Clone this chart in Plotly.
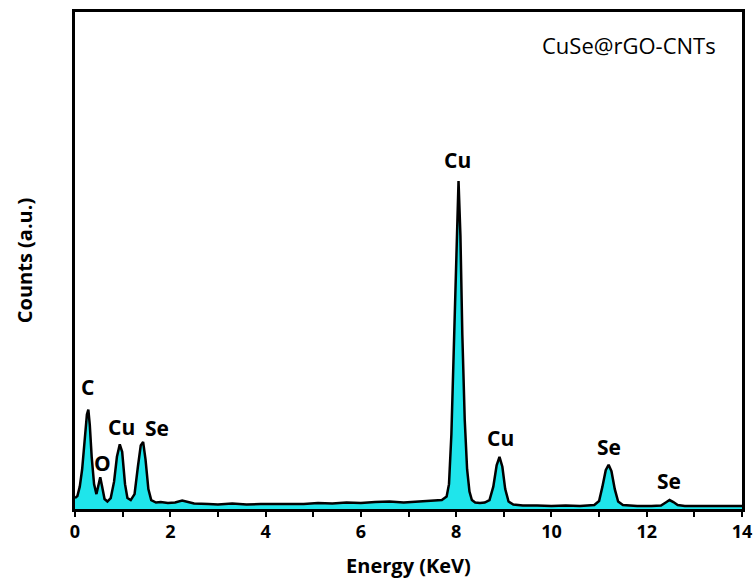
import plotly.graph_objects as go

energy = [0.00, 0.05, 0.10, 0.15, 0.20, 0.25, 0.28, 0.31, 0.35, 0.40, 0.45, 0.49, 0.53, 0.57,
          0.62, 0.68, 0.75, 0.82, 0.88, 0.94, 0.99, 1.05, 1.10, 1.17, 1.25, 1.32, 1.38, 1.43,
          1.48, 1.54, 1.60, 1.70, 1.80, 1.95, 2.10, 2.25, 2.35, 2.50, 2.80, 3.00, 3.30, 3.60,
          3.90, 4.20, 4.50, 4.80, 5.10, 5.40, 5.70, 6.00, 6.30, 6.60, 6.90, 7.20, 7.50, 7.70,
          7.80, 7.85, 7.90, 7.95, 8.00, 8.05, 8.09, 8.13, 8.18, 8.23, 8.28, 8.33, 8.40, 8.50,
          8.60, 8.70, 8.78, 8.85, 8.91, 8.97, 9.03, 9.10, 9.20, 9.40, 9.70, 10.00, 10.30, 10.60,
          10.90, 11.00, 11.07, 11.14, 11.20, 11.26, 11.33, 11.40, 11.50, 11.80, 12.10, 12.30,
          12.40, 12.48, 12.56, 12.65, 12.80, 13.20, 13.60, 14.00]
counts = [2.2, 2.6, 4.5, 8.0, 13.5, 19.0, 20.0, 17.0, 10.5, 5.0, 3.0, 4.5, 6.4, 4.5,
          2.0, 1.5, 2.2, 5.5, 10.5, 13.0, 11.5, 5.0, 2.2, 1.8, 3.0, 8.5, 12.8, 13.5,
          10.0, 4.0, 1.8, 1.3, 1.4, 1.2, 1.3, 1.7, 1.5, 1.1, 1.0, 0.9, 1.1, 0.9,
          1.0, 1.0, 1.1, 1.0, 1.2, 1.1, 1.3, 1.2, 1.4, 1.5, 1.3, 1.5, 1.6, 1.8,
          2.5, 5.0, 15.0, 32.0, 52.0, 66.0, 55.0, 35.0, 18.0, 8.0, 3.5, 1.8, 1.3, 1.2,
          1.3, 1.8, 4.5, 8.8, 10.5, 8.5, 4.0, 1.5, 0.9, 0.7, 0.7, 0.6, 0.7, 0.6,
          0.8, 1.6, 4.5, 7.8, 8.9, 7.6, 4.0, 1.5, 0.8, 0.6, 0.6, 0.7,
          1.3, 1.8, 1.4, 0.8, 0.6, 0.6, 0.6, 0.6]

peak_labels = ["C", "O", "Cu", "Se", "Cu", "Cu", "Se", "Se"]
label_x = [0.27, 0.57, 0.97, 1.72, 8.03, 8.93, 11.2, 12.47]
label_y = [24.5, 9.3, 16.5, 16.3, 70.2, 14.3, 12.5, 5.6]

x_tick_vals = [0, 2, 4, 6, 8, 10, 12, 14]
x_tick_text = ["<b>0</b>", "<b>2</b>", "<b>4</b>", "<b>6</b>", "<b>8</b>",
               "<b>10</b>", "<b>12</b>", "<b>14</b>"]

fig = go.Figure()
fig.add_trace(go.Scatter(
    x=energy, y=counts, mode="lines", fill="tozeroy",
    fillcolor="#1FE5EB", line=dict(color="black", width=2.5),
    showlegend=False, hoverinfo="skip"))

for t, xv, yv in zip(peak_labels, label_x, label_y):
    fig.add_annotation(x=xv, y=yv, text="<b>%s</b>" % t, showarrow=False,
                       font=dict(family="Open Sans", size=21, color="black"))

fig.add_annotation(x=(718 - 75) / 667.0, y=(509 - 45) / 497.0, xref="paper", yref="paper",
                   xanchor="right", yanchor="middle", showarrow=False,
                   text="CuSe@rGO-CNTs",
                   font=dict(family="Open Sans", size=22, color="black"))

fig.update_xaxes(range=[0, 14], tickvals=x_tick_vals, ticktext=x_tick_text,
                 ticks="outside", ticklen=5, tickwidth=2, tickcolor="black",
                 minor=dict(dtick=1, ticks="outside", ticklen=5, tickwidth=2, tickcolor="black"),
                 showline=True, linecolor="black", linewidth=2.5, mirror=True,
                 showgrid=False, zeroline=False, automargin=False,
                 tickfont=dict(family="Open Sans", size=18, color="black"),
                 title=dict(text="<b>Energy (KeV)</b>", standoff=17,
                            font=dict(family="Open Sans", size=20, color="black")))
fig.update_yaxes(range=[0, 100], showticklabels=False, ticks="",
                 showline=True, linecolor="black", linewidth=2.5, mirror=True,
                 showgrid=False, zeroline=False, automargin=False,
                 title=dict(text="<b>Counts (a.u.)</b>", standoff=35,
                            font=dict(family="Open Sans", size=20, color="black")))

fig.update_layout(width=755, height=581, margin=dict(l=75, r=13, t=12, b=72),
                  plot_bgcolor="white", paper_bgcolor="white")

fig.write_html("out.html")
